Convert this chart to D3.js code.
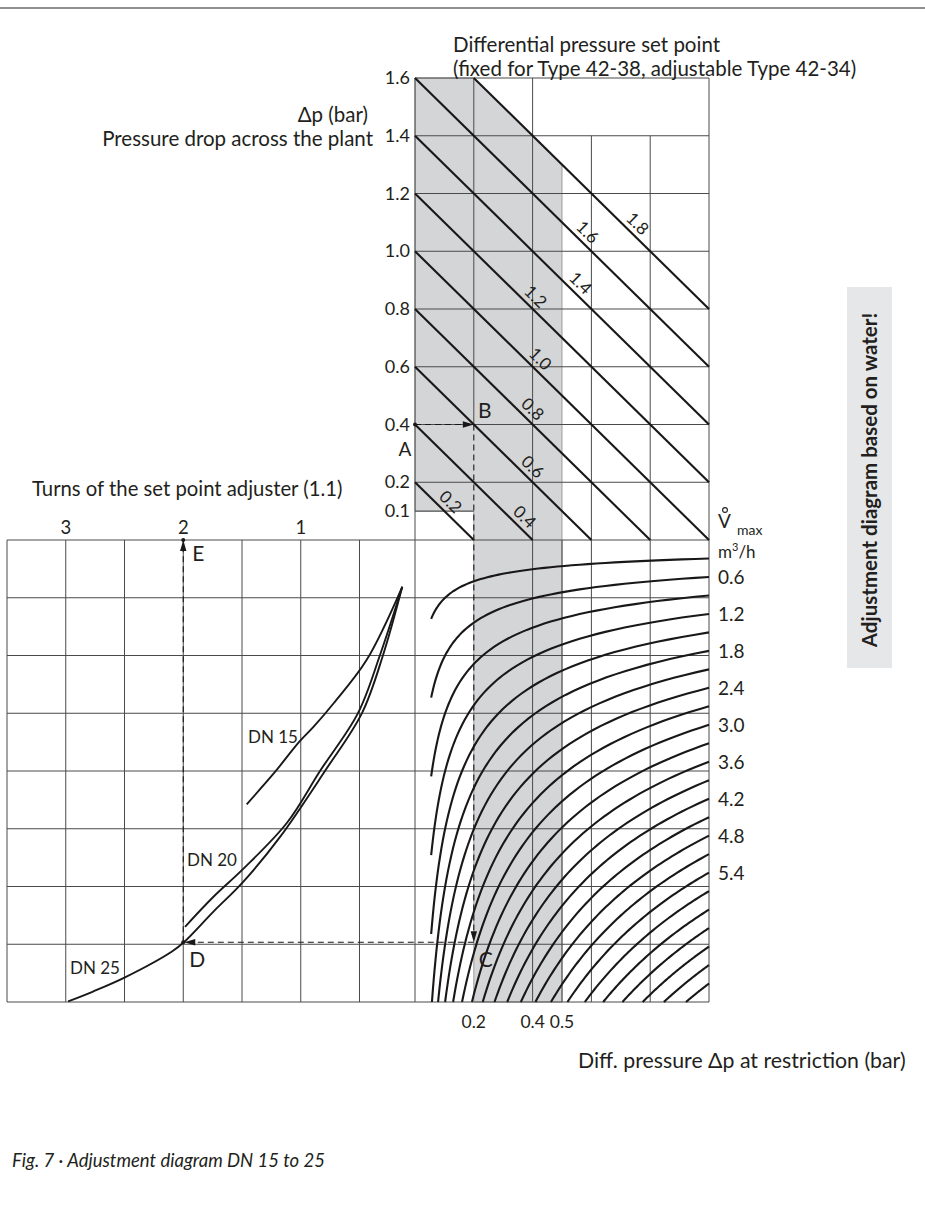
<!DOCTYPE html>
<html>
<head>
<meta charset="utf-8">
<script src="https://cdn.jsdelivr.net/npm/d3@7"></script>
<style>
  body { margin: 0; background: #fff; }
  svg { display: block; font-family: Lato, "Noto Sans", sans-serif; }
  .grid { stroke: #4a4a4a; stroke-width: 1; fill: none; }
  .heavy { stroke: #1a1718; stroke-width: 2.1; fill: none; }
  .dash { stroke: #1a1718; stroke-width: 1.1; stroke-dasharray: 6,4; fill: none; }
  text { fill: #231f20; }
</style>
</head>
<body>
<svg id="chart" width="925" height="1213"></svg>
<script>
// set point diagonals (bar)
var setPoints = [0.2, 0.4, 0.6, 0.8, 1.0, 1.2, 1.4, 1.6, 1.8];
var setPointLabelAt = [0.095, 0.347, 0.374, 0.374, 0.40, 0.384, 0.537, 0.561, 0.731];
var plantTicks = [0.1, 0.2, 0.4, 0.6, 0.8, 1.0, 1.2, 1.4, 1.6];
var restrictionTicks = [0.2, 0.4, 0.5];
var turnTicks = [1, 2, 3];
// flow curves V max (m3/h), every 0.3
var flows = [0.3, 0.6, 0.9, 1.2, 1.5, 1.8, 2.1, 2.4, 2.7, 3.0, 3.3, 3.6, 3.9, 4.2,
             4.5, 4.8, 5.1, 5.4, 5.7, 6.0, 6.3, 6.6, 6.9, 7.2, 7.5];
var flowLabels = [0.6, 1.2, 1.8, 2.4, 3.0, 3.6, 4.2, 4.8, 5.4];
// valve curves [turns, kv]
var dn15 = [[0.136, 0.76], [0.44, 1.95], [0.72, 2.65], [0.89, 3.03], [1.01, 3.27], [1.23, 3.79], [1.46, 4.29]];
var dn20 = [[0.136, 0.76], [0.326, 1.87], [0.513, 2.81], [0.836, 3.75], [1.117, 4.59], [1.49, 5.34], [1.747, 5.80], [1.985, 6.28]];
var dn25 = [[0.136, 0.76], [0.30, 1.87], [0.479, 2.81], [0.794, 3.75], [1.176, 4.82], [1.49, 5.55], [1.747, 6.04], [1.995, 6.53],
            [2.096, 6.68], [2.496, 7.10], [2.768, 7.33], [2.98, 7.49]];
// worked example A-B-C-D-E
var exPlant = 0.4, exRestriction = 0.2, exKv = 6.53, exTurns = 2;

var svg = d3.select('#chart');

var xR = d3.scaleLinear().domain([0, 1]).range([415, 709]);
var yP = d3.scaleLinear().domain([0, 1.6]).range([540, 78]);
var kvY = d3.scaleLinear().domain([0, 7.5]).range([540, 1002]);
var rowY = d3.scaleLinear().domain([0, 8]).range([540, 1002]);
var turnX = d3.scaleLinear().domain([0, 3.5]).range([418.25, 7]);

function seg(g, x1, y1, x2, y2, cls) {
  return g.append('line').attr('class', cls)
    .attr('x1', x1).attr('y1', y1).attr('x2', x2).attr('y2', y2);
}

// top rule
seg(svg, 0, 8, 925, 8, 'grid').style('stroke', '#231f20');

// grey band
var band = [
  [xR(0), yP(1.6)], [xR(0.2), yP(1.6)], [xR(0.5), yP(1.3)], [xR(0.5), kvY(7.5)],
  [xR(0.2), kvY(7.5)], [xR(0.2), yP(0.1)], [xR(0), yP(0.1)]
];
svg.append('path').attr('d', 'M' + band.join('L') + 'Z')
  .attr('fill', '#d4d5d7').attr('stroke', '#8a8a8a').attr('stroke-width', 0.8);

// upper grid
var g = svg.append('g');
d3.range(0.2, 1.61, 0.2).forEach(function (v) { seg(g, xR(0), yP(v), xR(1), yP(v), 'grid'); });
seg(g, xR(0), yP(0.1), xR(0.2), yP(0.1), 'grid');
[0, 0.4, 1].forEach(function (v) { seg(g, xR(v), yP(1.6), xR(v), yP(0), 'grid'); });
[0.6, 0.8].forEach(function (v) { seg(g, xR(v), yP(1.4), xR(v), yP(0), 'grid'); });
seg(g, xR(0.2), yP(1.6), xR(0.2), yP(exPlant), 'grid');

// lower grid
d3.range(0, 9).forEach(function (i) { seg(g, turnX(3.5), rowY(i), xR(1), rowY(i), 'grid'); });
d3.range(0.5, 3.51, 0.5).forEach(function (t) { seg(g, turnX(t), rowY(0), turnX(t), rowY(8), 'grid'); });
[0, 0.4, 0.5, 0.6, 0.8, 1].forEach(function (v) { seg(g, xR(v), rowY(0), xR(v), rowY(8), 'grid'); });

// set point diagonals
var diag = svg.append('g');
var ang = Math.atan2(yP(0) - yP(1), xR(1) - xR(0)) * 180 / Math.PI;
setPoints.forEach(function (s, i) {
  var a = s <= 1.6 ? [0, s] : [s - 1.6, 1.6];
  var b = s <= 1 ? [s, 0] : [1, s - 1];
  seg(diag, xR(a[0]), yP(a[1]), xR(b[0]), yP(b[1]), 'heavy');
  var lx = setPointLabelAt[i];
  var px = xR(lx), py = yP(s - lx);
  diag.append('text')
    .attr('transform', 'translate(' + px + ',' + py + ') rotate(' + ang + ')')
    .attr('text-anchor', 'middle').attr('y', -5)
    .style('font-size', '17px')
    .text(d3.format('.1f')(s));
});

// flow curves: kv = V / sqrt(dp)
var flowLine = d3.line()
  .x(function (d) { return xR(d[0]); })
  .y(function (d) { return kvY(d[1]); });
flows.forEach(function (v) {
  var start = Math.max(0.055, Math.pow(v / 7.5, 2));
  var pts = d3.range(0, 61).map(function (k) {
    var dp = start * Math.pow(1 / start, k / 60);
    return [dp, v / Math.sqrt(dp)];
  });
  svg.append('path').attr('class', 'heavy').attr('d', flowLine(pts));
});

// valve curves
var valveLine = d3.line()
  .x(function (d) { return turnX(d[0]); })
  .y(function (d) { return kvY(d[1]); })
  .curve(d3.curveCatmullRom);
[dn15, dn20, dn25].forEach(function (c) {
  svg.append('path').attr('class', 'heavy').style('stroke-width', 1.9).attr('d', valveLine(c));
});

// example path
var ex = svg.append('g');
function arrow(x, y, dir) {
  var L = 11, W = 3.2, p;
  if (dir === 'right') p = [[x, y], [x - L, y - W], [x - L, y + W]];
  if (dir === 'left') p = [[x, y], [x + L, y - W], [x + L, y + W]];
  if (dir === 'down') p = [[x, y], [x - W, y - L], [x + W, y - L]];
  if (dir === 'up') p = [[x, y], [x - W, y + L], [x + W, y + L]];
  ex.append('path').attr('d', 'M' + p.join('L') + 'Z').attr('fill', '#1a1718');
}
var A = [xR(0), yP(exPlant)], B = [xR(exRestriction), yP(exPlant)];
var C = [xR(exRestriction), kvY(exKv)], D = [turnX(exTurns), kvY(exKv)], E = [turnX(exTurns), rowY(0)];
seg(ex, A[0], A[1], B[0] - 8, B[1], 'dash');
seg(ex, B[0], B[1], C[0], C[1] - 8, 'dash');
seg(ex, C[0], C[1], D[0] + 8, D[1], 'dash');
seg(ex, D[0], D[1], E[0], E[1] + 8, 'dash');
arrow(B[0], B[1], 'right');
arrow(C[0], C[1], 'down');
arrow(D[0] + 1, D[1], 'left');
arrow(E[0], E[1], 'up');
[A, D, E].forEach(function (p) { ex.append('circle').attr('cx', p[0]).attr('cy', p[1]).attr('r', 2).attr('fill', '#1a1718'); });
function letter(t, x, y, size) {
  ex.append('text').attr('x', x).attr('y', y).attr('text-anchor', 'middle')
    .style('font-size', (size || 21) + 'px').text(t);
}
letter('A', A[0] - 10, A[1] + 31, 19);
letter('B', B[0] + 11, B[1] - 7);
letter('C', C[0] + 12, C[1] + 25);
letter('D', D[0] + 14, D[1] + 25);
letter('E', E[0] + 15, E[1] + 21);

// axis texts
var t = svg.append('g');
plantTicks.forEach(function (v) {
  t.append('text').attr('x', 410).attr('y', yP(v) + 6).attr('text-anchor', 'end')
    .style('font-size', '18px').text(d3.format('.1f')(v));
});
restrictionTicks.forEach(function (v) {
  t.append('text').attr('x', xR(v)).attr('y', 1028).attr('text-anchor', 'middle')
    .style('font-size', '17.5px').text(d3.format('.1f')(v));
});
turnTicks.forEach(function (v) {
  t.append('text').attr('x', turnX(v)).attr('y', 534).attr('text-anchor', 'middle')
    .style('font-size', '18.5px').text(v);
});
flowLabels.forEach(function (v) {
  t.append('text').attr('x', 718).attr('y', kvY(v) + 7)
    .style('font-size', '19px').text(d3.format('.1f')(v));
});
t.append('text').attr('x', 718).attr('y', 528).style('font-size', '19px').text('V');
t.append('circle').attr('cx', 725).attr('cy', 510).attr('r', 2.4).attr('fill', 'none').attr('stroke', '#231f20').attr('stroke-width', 1.1);
t.append('text').attr('x', 737).attr('y', 535).style('font-size', '14px').text('max');
var mh = t.append('text').attr('x', 718).attr('y', 558).style('font-size', '17px');
mh.append('tspan').text('m');
mh.append('tspan').attr('dy', -7).style('font-size', '11px').text('3');
mh.append('tspan').attr('dy', 7).text('/h');

function label(txt, x, y, size, anchor) {
  return t.append('text').attr('x', x).attr('y', y).attr('text-anchor', anchor || 'start')
    .style('font-size', size + 'px').text(txt);
}
label('Differential pressure set point', 453, 52, 20.5);
label('(fixed for Type 42-38, adjustable Type 42-34)', 453, 76, 20.5);
label('\u0394p (bar)', 368, 122, 20.5, 'end');
label('Pressure drop across the plant', 373, 146, 20.5, 'end');
label('Turns of the set point adjuster (1.1)', 32, 496, 20.3);
label('Diff. pressure \u0394p at restriction (bar)', 578, 1068, 21.3);
label('DN 15', 248, 743, 17);
label('DN 20', 187, 866, 17);
label('DN 25', 70, 974, 17);
label('Fig. 7 \u00b7 Adjustment diagram DN 15 to 25', 12, 1167, 18.5).style('font-style', 'italic');

// side note
svg.append('rect').attr('x', 847).attr('y', 287).attr('width', 45).attr('height', 381).attr('fill', '#e6e7e8');
svg.append('text').attr('transform', 'translate(877,480) rotate(-90)')
  .attr('text-anchor', 'middle').style('font-size', '20.5px').style('font-weight', 'bold')
  .text('Adjustment diagram based on water!');
</script>
</body>
</html>
